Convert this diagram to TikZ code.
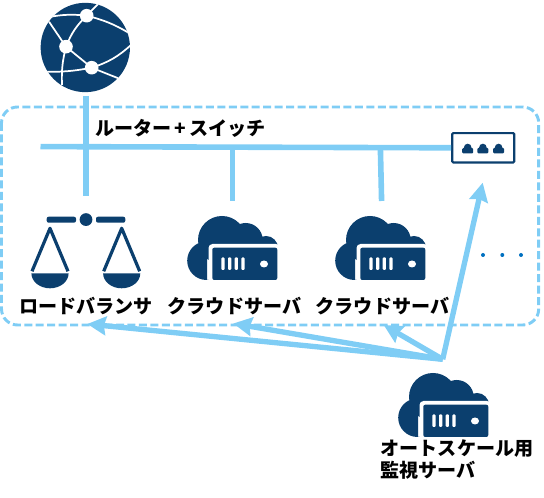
\documentclass[tikz,border=0pt]{standalone}
\usepackage{fontspec}
\usepackage{xcolor}
\usepackage{tikz}
\usetikzlibrary{arrows.meta,positioning,calc}
\setmainfont{Noto Sans CJK JP}
\definecolor{navyc}{HTML}{0B3F6E}
\definecolor{skyc}{HTML}{7FCDF5}
\definecolor{dotc}{HTML}{0070C0}

\begin{document}
\begin{tikzpicture}[
  x=0.75pt,y=-0.75pt,
  wire/.style={line width=4.2pt,draw=skyc},
  watch/.style={-{Stealth[length=14pt,width=14pt,inset=1.5pt]},line width=4pt,draw=skyc},
  zone/.style={draw=skyc,line width=2.2pt,dash pattern=on 6pt off 2.6pt,rounded corners=12pt},
  lbl/.style={font=\fontsize{14.3pt}{16.5pt}\selectfont\bfseries,text=black,inner sep=0pt,align=left},
  net/.style={white,line width=1.3pt},
  hub/.style={circle,fill=navyc,minimum size=67pt,inner sep=0pt},
  port/.style={fill=navyc},
  cloudsrv/.pic={
    \begin{scope}
      \clip (-60,-40) rectangle (60,32);
      \fill[navyc] (-10,-8) circle (24) (-25.5,12.7) circle (19.3) (13.7,-8) circle (17)
        (34,0) circle (12) (-25,0) rectangle (40,32);
    \end{scope}
    \fill[white,rounded corners=3pt] (-23.5,-4) rectangle (48,36);
    \fill[navyc,rounded corners=1.5pt] (-19.7,-0.3) rectangle (45.3,32);
    \foreach \sx in {-9,-2.3,4.3,11}
      \fill[white,rounded corners=0.8pt] (\sx-1.6,9.3) rectangle (\sx+1.6,22);
    \fill[white] (32,16) ellipse (4 and 3.5);
  },
  pan/.style={line width=2.4pt,draw=navyc,line join=round},
  scalepan/.pic={
    \draw[pan] (-18,43) -- (0,0) -- (18,43);
    \fill[navyc] (-18.6,45) arc[start angle=180,end angle=0,x radius=18.6,y radius=15] -- cycle;
  }
]
\useasboundingbox (0,0) rectangle (544,498);

\node[hub] (globe) at (85.3,47.5) {};
\coordinate (n1) at (86.7,15.7);
\coordinate (n2) at (66,46.7);
\coordinate (n3) at (91.7,67.7);
\begin{scope}
  \clip (globe) circle (45);
  \draw[net] (n1) to[bend right=8] (49,17);
  \draw[net] (n2) -- (49,21.7);
  \draw[net] (n1) to[bend left=8] (129,33);
  \draw[net] (n1) -- (99,3);
  \draw[net] (n1) to[bend right=12] (n2);
  \draw[net] (n2) -- (n3);
  \draw[net] (n3) to[bend right=12] (131,45);
  \draw[net] (n3) -- (118.3,78.3);
  \draw[net] (n2) to[bend right=8] (62,85);
  \draw[net] (n3) to[bend left=6] (43,71.7);
\end{scope}
\fill[white] (n1) circle (6.8) (n2) circle (6.8) (n3) circle (6.8);

\draw[zone] (1.5,107) rectangle (538.7,325);

\node[draw=navyc,line width=1.6pt,rounded corners=0.8pt,minimum width=46.5pt,minimum height=22pt,inner sep=0pt] (switch) at (483.2,147.8) {};
\foreach \px in {467.7,482.9,498.6}{
  \fill[port,rounded corners=0.8pt] (\px-5.5,148) rectangle (\px+5.5,153.4);
  \fill[port] (\px,147.5) circle (3.8);
}

\coordinate (busl) at (40.5,146.6);
\coordinate (lbtop) at (85.7,196.5);
\coordinate (tap1) at (232.3,148);
\coordinate (srv1top) at (232.3,201);
\coordinate (tap2) at (380.4,148.5);
\coordinate (srv2top) at (381.6,201);
\draw[wire] (busl) -- (switch.west);
\draw[wire] (85.7,96) -- (lbtop);
\draw[wire] (tap1) -- (srv1top);
\draw[wire] (tap2) -- (srv2top);

\coordinate (lb) at (86,219.6);
\fill[navyc,rounded corners=1.5pt] (46.7,216.7) rectangle (76,222.7) (96,216.7) rectangle (125.3,222.7);
\fill[navyc] (lb) circle (6.4);
\pic at (50,228.3) {scalepan};
\pic at (121.7,228.3) {scalepan};

\pic at (232,248) {cloudsrv};
\pic at (380,248) {cloudsrv};
\pic at (443,405) {cloudsrv};

\fill[dotc] (483,255) circle (2) (502.3,255) circle (2) (521,255) circle (2);

\coordinate (mon) at (442.7,359.3);
\coordinate (tolb) at (87.3,324);
\coordinate (tosrv1) at (233.3,323.5);
\coordinate (tosrv2) at (383.7,325);
\coordinate (tosw) at (482.7,182.7);
\draw[watch] (mon) -- (tolb);
\draw[watch] (mon) -- (tosrv1);
\draw[watch] (mon) -- (tosrv2);
\draw[watch] (mon) -- (tosw);

\node[lbl,anchor=west] (swlbl) at (95,128) {ルーター\,+\,スイッチ};
\node[lbl] (lblb) at (86,306) {ロードバランサ};
\node[lbl] (lbsrv1) at (234.5,306) {クラウドサーバ};
\node[lbl] (lbsrv2) at (382.5,306) {クラウドサーバ};
\node[lbl,anchor=north west] (lbmon) at (380.5,439) {オートスケール用\\監視サーバ};
\end{tikzpicture}
\end{document}
